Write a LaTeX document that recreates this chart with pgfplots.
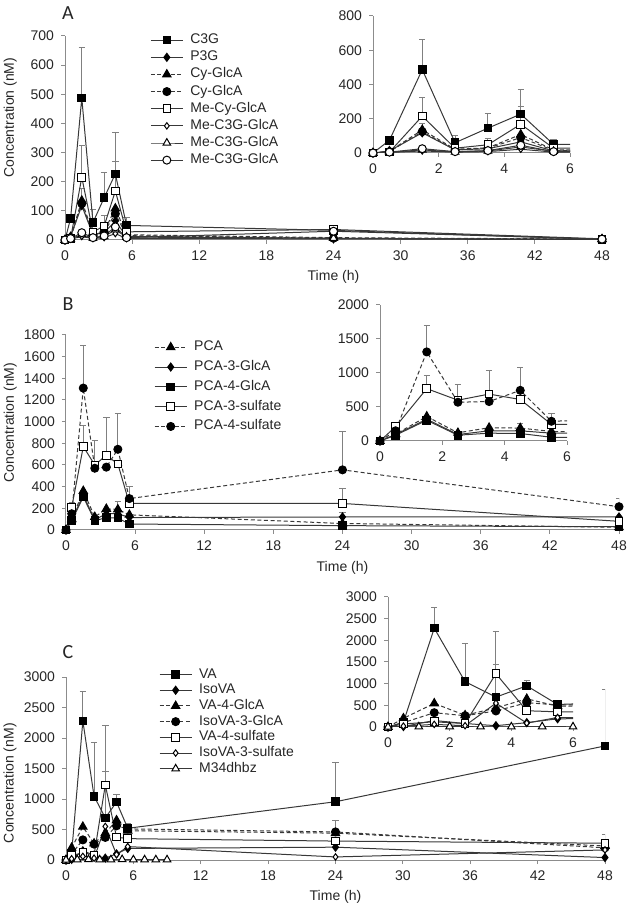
\documentclass[border=0pt]{standalone}
\usepackage{pgfplots}
\pgfplotsset{compat=1.18}
\usepackage{pgfplotstable}
\usepackage{fontspec}
\setmainfont{Liberation Sans}
\newfontfamily\letterfont{Carlito}
\definecolor{axgray}{gray}{0.55}
\definecolor{lngray}{gray}{0.22}

% ---------------- Panel A data ----------------
\pgfplotstableread{
t v
0 0
0.5 74
1.5 487
2.5 60
3.5 145
4.5 227
5.5 50
24 33
48 2
}\AaC
\pgfplotstableread{
t v
0 0
0.5 12
1.5 118
2.5 18
3.5 25
4.5 65
5.5 12
24 5
48 2
}\AaP
\pgfplotstableread{
t v
0 0
0.5 10
1.5 135
2.5 22
3.5 30
4.5 108
5.5 18
24 8
48 3
}\AaT
\pgfplotstableread{
t v
0 0
0.5 8
1.5 125
2.5 18
3.5 28
4.5 90
5.5 15
24 6
48 2
}\AaO
\pgfplotstableread{
t v
0 0
0.5 5
1.5 215
2.5 28
3.5 48
4.5 168
5.5 28
24 36
48 4
}\AaMS
\pgfplotstableread{
t v
0 0
0.5 3
1.5 12
2.5 5
3.5 8
4.5 22
5.5 5
24 4
48 1
}\AaMD
\pgfplotstableread{
t v
0 0
0.5 4
1.5 18
2.5 6
3.5 12
4.5 35
5.5 10
24 6
48 2
}\AaMT
\pgfplotstableread{
t v
0 0
0.5 5
1.5 25
2.5 8
3.5 14
4.5 45
5.5 8
24 30
48 3
}\AaMO
\pgfplotstableread{
t v e
1.5 487 175
2.5 60 43
3.5 145 85
4.5 227 141
5.5 50 28
1.5 215 110
4.5 168 102
3.5 48 37
1.5 135 40
}\AaErr

% ---------------- Panel B data ----------------
\pgfplotstableread{
t v
0 0
0.5 100
1.5 360
2.5 120
3.5 195
4.5 190
5.5 140
24 60
48 25
}\BbPCA
\pgfplotstableread{
t v
0 0
0.5 95
1.5 320
2.5 95
3.5 150
4.5 150
5.5 115
24 120
48 120
}\BbTG
\pgfplotstableread{
t v
0 0
0.5 85
1.5 305
2.5 85
3.5 115
4.5 110
5.5 55
24 40
48 30
}\BbFG
\pgfplotstableread{
t v
0 0
0.5 210
1.5 770
2.5 600
3.5 690
4.5 610
5.5 245
24 245
48 80
}\BbTS
\pgfplotstableread{
t v
0 0
0.5 150
1.5 1310
2.5 570
3.5 580
4.5 745
5.5 290
24 555
48 215
}\BbFS
\pgfplotstableread{
t v e
0.5 210 40
1.5 1310 390
1.5 770 190
2.5 600 230
3.5 690 350
4.5 745 330
4.5 190 70
5.5 290 110
24 555 350
24 245 140
24 60 105
48 215 80
}\BbErr

% ---------------- Panel C data ----------------
\pgfplotstableread{
t v
0 0
0.5 110
1.5 2280
2.5 1045
3.5 690
4.5 950
5.5 520
24 955
48 1870
}\CcVA
\pgfplotstableread{
t v
0 0
0.5 10
1.5 150
2.5 80
3.5 30
4.5 100
5.5 190
24 210
48 40
}\CcIso
\pgfplotstableread{
t v
0 0
0.5 200
1.5 545
2.5 270
3.5 440
4.5 650
5.5 480
24 440
48 230
}\CcVAG
\pgfplotstableread{
t v
0 0
0.5 100
1.5 330
2.5 260
3.5 370
4.5 560
5.5 510
24 460
48 200
}\CcIsoG
\pgfplotstableread{
t v
0 0
0.5 70
1.5 120
2.5 80
3.5 1230
4.5 375
5.5 350
24 310
48 275
}\CcVAS
\pgfplotstableread{
t v
0 0
0.5 20
1.5 60
2.5 30
3.5 550
4.5 90
5.5 220
24 50
48 165
}\CcIsoS
\pgfplotstableread{
t v
0 0
1 5
2 8
3 5
4 5
5 8
6 5
7 5
8 5
9 5
}\CcM
\pgfplotstableread{
t v e
1.5 2280 480
2.5 1045 885
3.5 1230 980
3.5 690 760
4.5 950 130
5.5 510 90
24 955 645
24 460 190
48 1870 920
48 275 135
}\CcErr

\pgfplotsset{
  base/.style={
    scale only axis, anchor=south west,
    axis x line*=bottom, axis y line*=left,
    axis line style={axgray, line width=0.5pt},
    tick style={axgray, line width=0.5pt},
    tick align=outside, major tick length=2pt,
    tick label style={font=\fontsize{7}{8}\selectfont, text=black!85},
    label style={font=\fontsize{7}{8}\selectfont, text=black!85},
    /pgf/number format/assume math mode=true,
    /pgf/number format/1000 sep={},
    xmin=0, ymin=0,
    legend image code/.code={\draw[mark repeat=2,mark phase=2,##1] plot coordinates {(0pt,0pt) (8pt,0pt) (16pt,0pt)};},
    legend cell align=left,
  },
  mainax/.style={base, xmax=48, xtick={0,6,...,48}, xlabel={Time (h)}},
  inset/.style={base, xmax=6, xtick={0,2,4,6}},
  ln/.style={lngray, line width=0.5pt, solid},
  dl/.style={lngray, line width=0.5pt, dash pattern=on 2pt off 1.3pt},
  fsq/.style={mark=square*, mark size=1.9pt, mark options={solid, draw=black, fill=black}},
  fdm/.style={mark=diamond*, mark size=2.0pt, mark options={solid, draw=black, fill=black}},
  ftr/.style={mark=triangle*, mark size=2.4pt, mark options={solid, draw=black, fill=black}},
  fci/.style={mark=*, mark size=2.0pt, mark options={solid, draw=black, fill=black}},
  osq/.style={mark=square*, mark size=1.9pt, mark options={solid, draw=black, fill=white}},
  odm/.style={mark=diamond*, mark size=1.6pt, mark options={solid, draw=black, fill=white}},
  otr/.style={mark=triangle*, mark size=2.2pt, mark options={solid, draw=black, fill=white}},
  oci/.style={mark=*, mark size=2.0pt, mark options={solid, draw=black, fill=white}},
  errst/.style={forget plot, draw=none, mark=none,
    error bars/.cd, y dir=plus, y explicit,
    error bar style={draw=gray, solid, line width=0.5pt},
    error mark options={rotate=90, draw=gray, solid, mark size=1.6pt, line width=0.5pt}},
  lgd/.style={legend style={draw=none, fill=none, anchor=north west,
     font=\fontsize{7}{8}\selectfont, text=black!85,
     nodes={inner sep=0pt, text height=5pt, text depth=1.5pt},
     column sep=3.5pt, row sep=#1}},
}

\begin{document}
\begin{tikzpicture}
\useasboundingbox (0pt,0pt) rectangle (314.5pt,454pt);

% ================= Panel A =================
\node[font=\letterfont\fontsize{10}{11}\selectfont, text=black!85] at (34pt,447.5pt) {A};
\begin{axis}[mainax, at={(32.5pt,334pt)}, width=268.5pt, height=102pt,
  ymax=700, ytick={0,100,...,700}, ylabel={Concentration (nM)},
  ylabel style={at={(axis description cs:-0.102,0.60)}, anchor=center},
  xlabel style={at={(axis description cs:0.5,-0.181)}, anchor=center},
  lgd=2.07pt, legend style={at={(axis description cs:0.147,1.033)}}]
\addplot[errst] table[x=t,y=v,y error plus=e] {\AaErr};
\addplot[ln, fsq] table[x=t,y=v] {\AaC};
\addlegendentry{C3G}
\addplot[ln, fdm] table[x=t,y=v] {\AaP};
\addlegendentry{P3G}
\addplot[dl, ftr] table[x=t,y=v] {\AaT};
\addlegendentry{Cy-GlcA}
\addplot[dl, fci] table[x=t,y=v] {\AaO};
\addlegendentry{Cy-GlcA}
\addplot[ln, osq] table[x=t,y=v] {\AaMS};
\addlegendentry{Me-Cy-GlcA}
\addplot[ln, odm] table[x=t,y=v] {\AaMD};
\addlegendentry{Me-C3G-GlcA}
\addplot[ln, otr] table[x=t,y=v] {\AaMT};
\addlegendentry{Me-C3G-GlcA}
\addplot[ln, oci] table[x=t,y=v] {\AaMO};
\addlegendentry{Me-C3G-GlcA}
\end{axis}
\begin{axis}[inset, at={(186.5pt,377.5pt)}, width=98.5pt, height=68.5pt,
  ymax=800, ytick={0,200,...,800}]
\addplot[errst] table[x=t,y=v,y error plus=e] {\AaErr};
\addplot[ln, fsq] table[x=t,y=v] {\AaC};
\addplot[ln, fdm] table[x=t,y=v] {\AaP};
\addplot[dl, ftr] table[x=t,y=v] {\AaT};
\addplot[dl, fci] table[x=t,y=v] {\AaO};
\addplot[ln, osq] table[x=t,y=v] {\AaMS};
\addplot[ln, odm] table[x=t,y=v] {\AaMD};
\addplot[ln, otr] table[x=t,y=v] {\AaMT};
\addplot[ln, oci] table[x=t,y=v] {\AaMO};
\end{axis}

% ================= Panel B =================
\node[font=\letterfont\fontsize{10}{11}\selectfont, text=black!85] at (34pt,302pt) {B};
\begin{axis}[mainax, at={(33pt,189pt)}, width=276.5pt, height=97.5pt,
  ymax=1800, ytick={0,200,...,1800}, ylabel={Concentration (nM)},
  ylabel style={at={(axis description cs:-0.101,0.55)}, anchor=center},
  xlabel style={at={(axis description cs:0.5,-0.195)}, anchor=center},
  lgd=3.4pt, legend style={at={(axis description cs:0.148,0.993)}}]
\addplot[errst] table[x=t,y=v,y error plus=e] {\BbErr};
\addplot[dl, ftr] table[x=t,y=v] {\BbPCA};
\addlegendentry{PCA}
\addplot[ln, fdm] table[x=t,y=v] {\BbTG};
\addlegendentry{PCA-3-GlcA}
\addplot[ln, fsq] table[x=t,y=v] {\BbFG};
\addlegendentry{PCA-4-GlcA}
\addplot[ln, osq] table[x=t,y=v] {\BbTS};
\addlegendentry{PCA-3-sulfate}
\addplot[dl, fci] table[x=t,y=v] {\BbFS};
\addlegendentry{PCA-4-sulfate}
\end{axis}
\begin{axis}[inset, at={(190pt,233.5pt)}, width=93.5pt, height=68pt,
  ymax=2000, ytick={0,500,...,2000}]
\addplot[errst] table[x=t,y=v,y error plus=e] {\BbErr};
\addplot[dl, ftr] table[x=t,y=v] {\BbPCA};
\addplot[ln, fdm] table[x=t,y=v] {\BbTG};
\addplot[ln, fsq] table[x=t,y=v] {\BbFG};
\addplot[ln, osq] table[x=t,y=v] {\BbTS};
\addplot[dl, fci] table[x=t,y=v] {\BbFS};
\end{axis}

% ================= Panel C =================
\node[font=\letterfont\fontsize{10}{11}\selectfont, text=black!85] at (34pt,128pt) {C};
\begin{axis}[mainax, at={(33pt,24pt)}, width=269.5pt, height=91.5pt,
  ymax=3000, ytick={0,500,...,3000}, ylabel={Concentration (nM)},
  ylabel style={at={(axis description cs:-0.104,0.42)}, anchor=center},
  xlabel style={at={(axis description cs:0.5,-0.202)}, anchor=center},
  lgd=1.35pt, legend style={at={(axis description cs:0.161,1.073)}}]
\addplot[errst] table[x=t,y=v,y error plus=e] {\CcErr};
\addplot[ln, fsq] table[x=t,y=v] {\CcVA};
\addlegendentry{VA}
\addplot[ln, fdm] table[x=t,y=v] {\CcIso};
\addlegendentry{IsoVA}
\addplot[dl, ftr] table[x=t,y=v] {\CcVAG};
\addlegendentry{VA-4-GlcA}
\addplot[dl, fci] table[x=t,y=v] {\CcIsoG};
\addlegendentry{IsoVA-3-GlcA}
\addplot[ln, osq] table[x=t,y=v] {\CcVAS};
\addlegendentry{VA-4-sulfate}
\addplot[ln, odm] table[x=t,y=v] {\CcIsoS};
\addlegendentry{IsoVA-3-sulfate}
\addplot[ln, otr] table[x=t,y=v] {\CcM};
\addlegendentry{M34dhbz}
\end{axis}
\begin{axis}[inset, at={(194pt,90.5pt)}, width=92.5pt, height=65pt,
  ymax=3000, ytick={0,500,...,3000}]
\addplot[errst] table[x=t,y=v,y error plus=e] {\CcErr};
\addplot[ln, fsq] table[x=t,y=v] {\CcVA};
\addplot[ln, fdm] table[x=t,y=v] {\CcIso};
\addplot[dl, ftr] table[x=t,y=v] {\CcVAG};
\addplot[dl, fci] table[x=t,y=v] {\CcIsoG};
\addplot[ln, osq] table[x=t,y=v] {\CcVAS};
\addplot[ln, odm] table[x=t,y=v] {\CcIsoS};
\addplot[ln, otr] table[x=t,y=v] {\CcM};
\end{axis}
\end{tikzpicture}
\end{document}
